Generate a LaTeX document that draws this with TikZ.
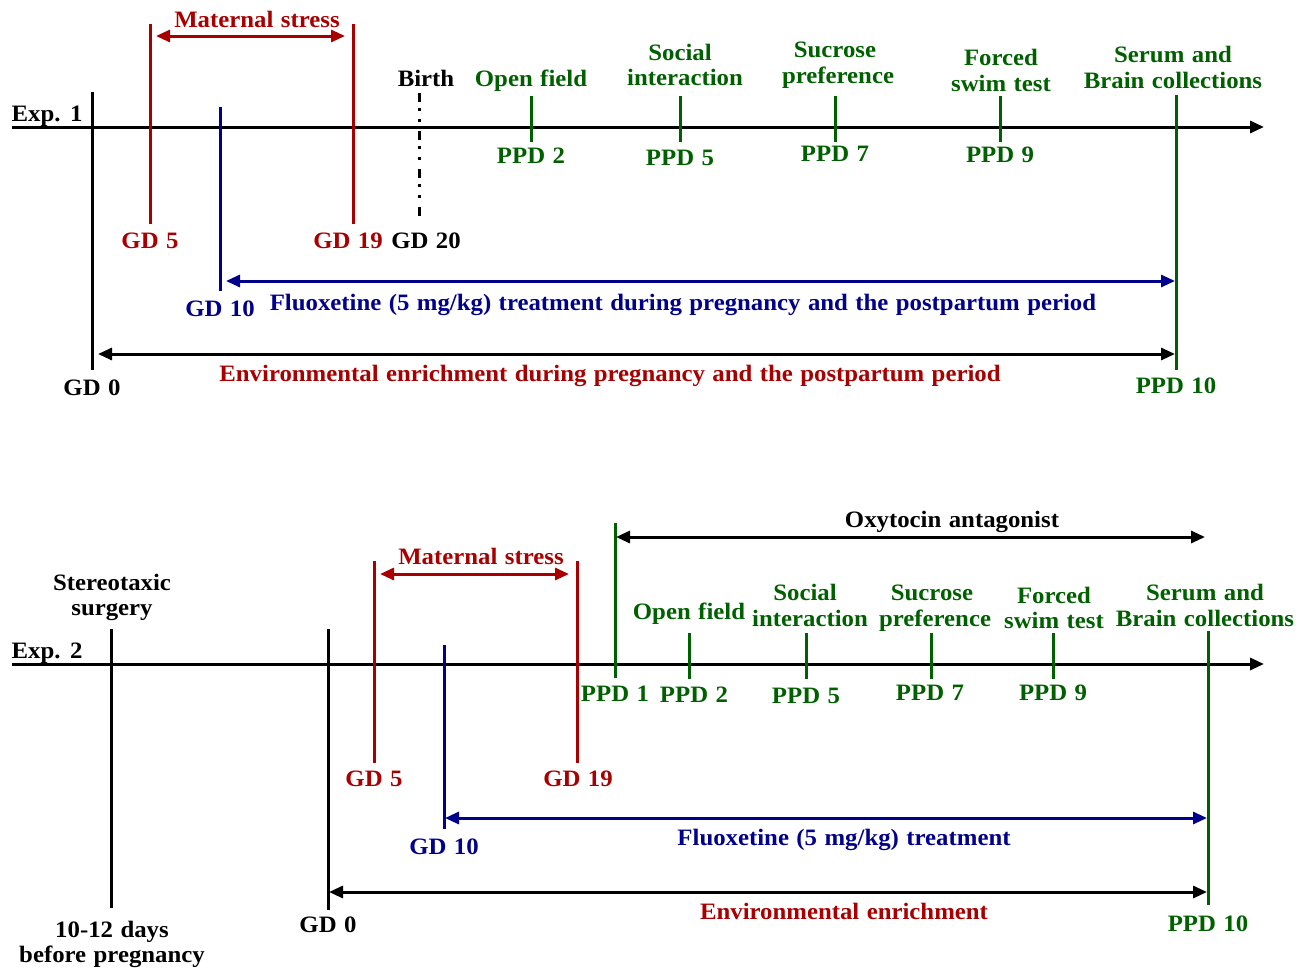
\documentclass[tikz,border=0pt]{standalone}
\usepackage{fontspec}
\setmainfont{Liberation Serif}[FakeStretch=1.055,WordSpace=1.2]
\usetikzlibrary{arrows.meta}
\definecolor{cred}{RGB}{168,0,0}
\definecolor{cblue}{RGB}{0,0,140}
\definecolor{cgreen}{RGB}{0,96,0}
\begin{document}
\begin{tikzpicture}[x=1pt,y=-1pt,
  lbl/.style={anchor=base,inner sep=0pt,font=\fontsize{23.5}{26}\selectfont\bfseries},
  tl/.style={line width=3pt},
  tip/.style={-{Triangle[length=14pt,width=12pt]}},
  tips/.style={{Triangle[length=14pt,width=12pt]}-{Triangle[length=14pt,width=12pt]}},
  birthline/.style={line width=3pt,dash pattern=on 9pt off 6pt on 3pt off 8pt on 3pt off 9pt}]
\useasboundingbox (0,0) rectangle (1311,967);
% ================= Exp 1 =================
\coordinate (a1s) at (12,127); \coordinate (a1e) at (1264,127);
\draw[tl,tip] (a1s) -- (a1e);
\node[lbl] (exp1) at (47,121) {Exp. 1};
% GD0
\coordinate (g0t) at (92,92); \coordinate (g0b) at (92,370);
\draw[tl] (g0t) -- (g0b);
\node[lbl] (g0l) at (92,395) {GD 0};
% GD5, GD19
\coordinate (g5t) at (150,24); \coordinate (g5b) at (150,224);
\coordinate (g19t) at (353,24); \coordinate (g19b) at (353,224);
\draw[tl,cred] (g5t) -- (g5b);
\draw[tl,cred] (g19t) -- (g19b);
\node[lbl,cred] (g5l) at (150,248) {GD 5};
\node[lbl,cred] (g19l) at (348,248) {GD 19};
\coordinate (ms1a) at (156,36); \coordinate (ms1b) at (345,36);
\draw[tl,cred,tips] (ms1a) -- (ms1b);
\node[lbl,cred] (ms1) at (257,27) {Maternal stress};
% GD10
\coordinate (g10t) at (220,107); \coordinate (g10b) at (220,291);
\draw[tl,cblue] (g10t) -- (g10b);
\node[lbl,cblue] (g10l) at (220,316) {GD 10};
% Birth
\coordinate (bt) at (419,93); \coordinate (bb) at (419,219);
\draw[birthline] (bt) -- (bb);
\node[lbl] (birth) at (426,86) {Birth};
\node[lbl] (g20l) at (426,248) {GD 20};
% tests
\foreach \n/\x in {p2/531,p5/680,p7/835,p9/1000}{
  \coordinate (\n t) at (\x,96); \coordinate (\n b) at (\x,142);
  \draw[tl,cgreen] (\n t) -- (\n b);
}
\node[lbl,cgreen] (p2l) at (531,163) {PPD 2};
\node[lbl,cgreen] (p5l) at (680,165) {PPD 5};
\node[lbl,cgreen] (p7l) at (835,161) {PPD 7};
\node[lbl,cgreen] (p9l) at (1000,162) {PPD 9};
\node[lbl,cgreen] (of1) at (531,86) {Open field};
\node[lbl,cgreen] (si1a) at (680,60) {Social};
\node[lbl,cgreen] (si1b) at (685,85) {interaction};
\node[lbl,cgreen] (sp1a) at (835,57) {Sucrose};
\node[lbl,cgreen] (sp1b) at (838,83) {preference};
\node[lbl,cgreen] (fs1a) at (1001,65) {Forced};
\node[lbl,cgreen] (fs1b) at (1001,91) {swim test};
% PPD10
\coordinate (p10t) at (1176,95); \coordinate (p10b) at (1176,370);
\draw[tl,cgreen] (p10t) -- (p10b);
\node[lbl,cgreen] (sb1a) at (1173,62) {Serum and};
\node[lbl,cgreen] (sb1b) at (1173,88) {Brain collections};
\node[lbl,cgreen] (p10l) at (1176,393) {PPD 10};
% Fluoxetine
\coordinate (fx1a) at (226,281); \coordinate (fx1b) at (1175,281);
\draw[tl,cblue,tips] (fx1a) -- (fx1b);
\node[lbl,cblue] (fx1) at (683,310) {Fluoxetine (5 mg/kg) treatment during pregnancy and the postpartum period};
% EE
\coordinate (ee1a) at (98,354); \coordinate (ee1b) at (1175,354);
\draw[tl,tips] (ee1a) -- (ee1b);
\node[lbl,cred] (ee1) at (610,381) {Environmental enrichment during pregnancy and the postpartum period};
% ================= Exp 2 =================
\coordinate (a2s) at (12,664); \coordinate (a2e) at (1264,664);
\draw[tl,tip] (a2s) -- (a2e);
\node[lbl] (exp2) at (47,658) {Exp. 2};
% surgery
\coordinate (sst) at (111,629); \coordinate (ssb) at (111,908);
\draw[tl] (sst) -- (ssb);
\node[lbl] (ss1) at (112,590) {Stereotaxic};
\node[lbl] (ss2) at (112,615) {surgery};
\node[lbl] (dd1) at (112,937) {10-12 days};
\node[lbl] (dd2) at (112,962) {before pregnancy};
% GD0
\coordinate (h0t) at (328,629); \coordinate (h0b) at (328,910);
\draw[tl] (h0t) -- (h0b);
\node[lbl] (h0l) at (328,932) {GD 0};
% GD5, GD19
\coordinate (h5t) at (374,561); \coordinate (h5b) at (374,763);
\coordinate (h19t) at (577,561); \coordinate (h19b) at (577,763);
\draw[tl,cred] (h5t) -- (h5b);
\draw[tl,cred] (h19t) -- (h19b);
\node[lbl,cred] (h5l) at (374,786) {GD 5};
\node[lbl,cred] (h19l) at (578,786) {GD 19};
\coordinate (ms2a) at (380,574); \coordinate (ms2b) at (569,574);
\draw[tl,cred,tips] (ms2a) -- (ms2b);
\node[lbl,cred] (ms2) at (481,564) {Maternal stress};
% GD10
\coordinate (h10t) at (444,645); \coordinate (h10b) at (444,829);
\draw[tl,cblue] (h10t) -- (h10b);
\node[lbl,cblue] (h10l) at (444,854) {GD 10};
% PPD1
\coordinate (q1t) at (615,523); \coordinate (q1b) at (615,678);
\draw[tl,cgreen] (q1t) -- (q1b);
\node[lbl,cgreen] (q1l) at (615,701) {PPD 1};
% Oxytocin
\coordinate (oxa) at (616,537); \coordinate (oxb) at (1205,537);
\draw[tl,tips] (oxa) -- (oxb);
\node[lbl] (ox) at (952,527) {Oxytocin antagonist};
% tests
\foreach \n/\x in {q2/689,q5/806,q7/931,q9/1053}{
  \coordinate (\n t) at (\x,633); \coordinate (\n b) at (\x,679);
  \draw[tl,cgreen] (\n t) -- (\n b);
}
\node[lbl,cgreen] (q2l) at (694,702) {PPD 2};
\node[lbl,cgreen] (q5l) at (806,703) {PPD 5};
\node[lbl,cgreen] (q7l) at (930,700) {PPD 7};
\node[lbl,cgreen] (q9l) at (1053,700) {PPD 9};
\node[lbl,cgreen] (of2) at (689,619) {Open field};
\node[lbl,cgreen] (si2a) at (805,600) {Social};
\node[lbl,cgreen] (si2b) at (810,626) {interaction};
\node[lbl,cgreen] (sp2a) at (932,600) {Sucrose};
\node[lbl,cgreen] (sp2b) at (935,626) {preference};
\node[lbl,cgreen] (fs2a) at (1054,603) {Forced};
\node[lbl,cgreen] (fs2b) at (1054,628) {swim test};
% PPD10
\coordinate (q10t) at (1208,631); \coordinate (q10b) at (1208,905);
\draw[tl,cgreen] (q10t) -- (q10b);
\node[lbl,cgreen] (sb2a) at (1205,600) {Serum and};
\node[lbl,cgreen] (sb2b) at (1205,626) {Brain collections};
\node[lbl,cgreen] (q10l) at (1208,931) {PPD 10};
% Fluoxetine
\coordinate (fx2a) at (445,818); \coordinate (fx2b) at (1207,818);
\draw[tl,cblue,tips] (fx2a) -- (fx2b);
\node[lbl,cblue] (fx2) at (844,845) {Fluoxetine (5 mg/kg) treatment};
% EE
\coordinate (ee2a) at (329,892); \coordinate (ee2b) at (1207,892);
\draw[tl,tips] (ee2a) -- (ee2b);
\node[lbl,cred] (ee2) at (844,919) {Environmental enrichment};
\end{tikzpicture}
\end{document}
